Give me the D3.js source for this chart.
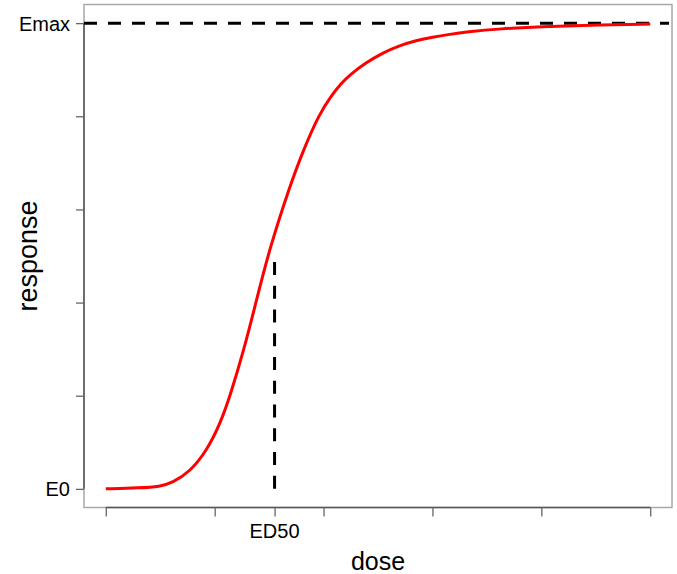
<!DOCTYPE html>
<html>
<head>
<meta charset="utf-8">
<script src="https://cdn.jsdelivr.net/npm/d3@7"></script>
<style>
    body { margin: 0; background: #fff; }
    text { font-family: "Liberation Sans", Arial, sans-serif; fill: #000; }
</style>
</head>
<body>
<div id="chart"></div>
<script>
// dose / response (E0 = 0, Emax = 1)
const doseValues = [0, 0.31, 0.50, 0.61, 0.77, 0.93, 1.05, 1.14, 1.27, 1.37, 1.50, 1.69, 1.81, 1.96,
                    2.08, 2.16, 2.24, 2.39, 2.54, 2.70, 2.85, 3.00, 3.16, 3.31, 3.61, 4.07, 4.53, 5.00];
const responseValues = [0, 0.002, 0.005, 0.013, 0.036, 0.083, 0.140, 0.198, 0.300, 0.392, 0.513, 0.650,
                        0.725, 0.805, 0.847, 0.870, 0.889, 0.915, 0.936, 0.952, 0.963, 0.970, 0.976,
                        0.981, 0.988, 0.993, 0.996, 0.998];
const xTicks = [0, 1, 2, 3, 4, 5];
const yTicks = [0, 0.2, 0.4, 0.6, 0.8, 1];
const yTickLabels = ["E0", "", "", "", "", "Emax"];
const ed50 = 1.55;
const ed50Top = 0.487;
const emax = 1;

const width = 677,
      height = 574;

const svg = d3.select("#chart")
              .append("svg")
              .attr("width", width)
              .attr("height", height);

const x = d3.scaleLinear().domain([-0.2, 5.2]).range([84, 672]);
const y = d3.scaleLinear().domain([-0.04, 1.04]).range([507.5, 4.5]);

// box
svg.append("rect")
   .attr("x", x.range()[0])
   .attr("y", y.range()[1])
   .attr("width", x.range()[1] - x.range()[0])
   .attr("height", y.range()[0] - y.range()[1])
   .attr("fill", "none")
   .attr("stroke", "#a8a8a8")
   .attr("stroke-width", 1.5);

// axes
const xAxis = svg.append("g")
                 .attr("transform", `translate(0,${y.range()[0]})`)
                 .call(d3.axisBottom(x).tickValues(xTicks.concat([ed50])).tickSize(9).tickFormat(""));
const yAxis = svg.append("g")
                 .attr("transform", `translate(${x.range()[0]},0)`)
                 .call(d3.axisLeft(y).tickValues(yTicks).tickSize(8).tickFormat(""));

xAxis.select(".domain").attr("d", `M${x(xTicks[0])},0H${x(xTicks[xTicks.length - 1])}`);
yAxis.select(".domain").attr("d", `M0,${y(yTicks[0])}V${y(yTicks[yTicks.length - 1])}`);
svg.selectAll(".domain").attr("stroke", "#555").attr("stroke-width", 1.5);
svg.selectAll(".tick line").attr("stroke", "#666").attr("stroke-width", 1.3);

// tick labels
svg.selectAll(".ylab")
   .data(yTicks)
   .join("text")
   .attr("class", "ylab")
   .attr("x", 70)
   .attr("y", d => y(d) + 7.5)
   .attr("text-anchor", "end")
   .style("font-size", "20px")
   .text((d, i) => yTickLabels[i]);

svg.append("text")
   .attr("x", x(ed50))
   .attr("y", 538)
   .attr("text-anchor", "middle")
   .style("font-size", "20px")
   .text("ED50");

// axis titles
svg.append("text")
   .attr("x", 378)
   .attr("y", 570)
   .attr("text-anchor", "middle")
   .style("font-size", "25px")
   .text("dose");

svg.append("text")
   .attr("transform", "translate(37,256) rotate(-90)")
   .attr("text-anchor", "middle")
   .style("font-size", "27px")
   .text("response");

// Emax line
svg.append("line")
   .attr("x1", x.range()[0])
   .attr("x2", x.range()[1] - 3)
   .attr("y1", y(emax))
   .attr("y2", y(emax))
   .attr("stroke", "#000")
   .attr("stroke-width", 3)
   .attr("stroke-dasharray", "13,11");

// ED50 line, gap stretched so a dash sits on both ends
const ed50Len = y(0) - y(ed50Top);
const ed50Gap = (ed50Len - 13) / Math.round((ed50Len - 13) / 23.5) - 13;

svg.append("line")
   .attr("x1", x(ed50))
   .attr("x2", x(ed50))
   .attr("y1", y(0))
   .attr("y2", y(ed50Top))
   .attr("stroke", "#000")
   .attr("stroke-width", 3)
   .attr("stroke-dasharray", `13,${ed50Gap}`);

// curve
const curve = d3.line()
                .x(d => x(d[0]))
                .y(d => y(d[1]))
                .curve(d3.curveBasis);

svg.append("path")
   .datum(d3.zip(doseValues, responseValues))
   .attr("d", curve)
   .attr("fill", "none")
   .attr("stroke", "#ff0000")
   .attr("stroke-width", 3);
</script>
</body>
</html>
